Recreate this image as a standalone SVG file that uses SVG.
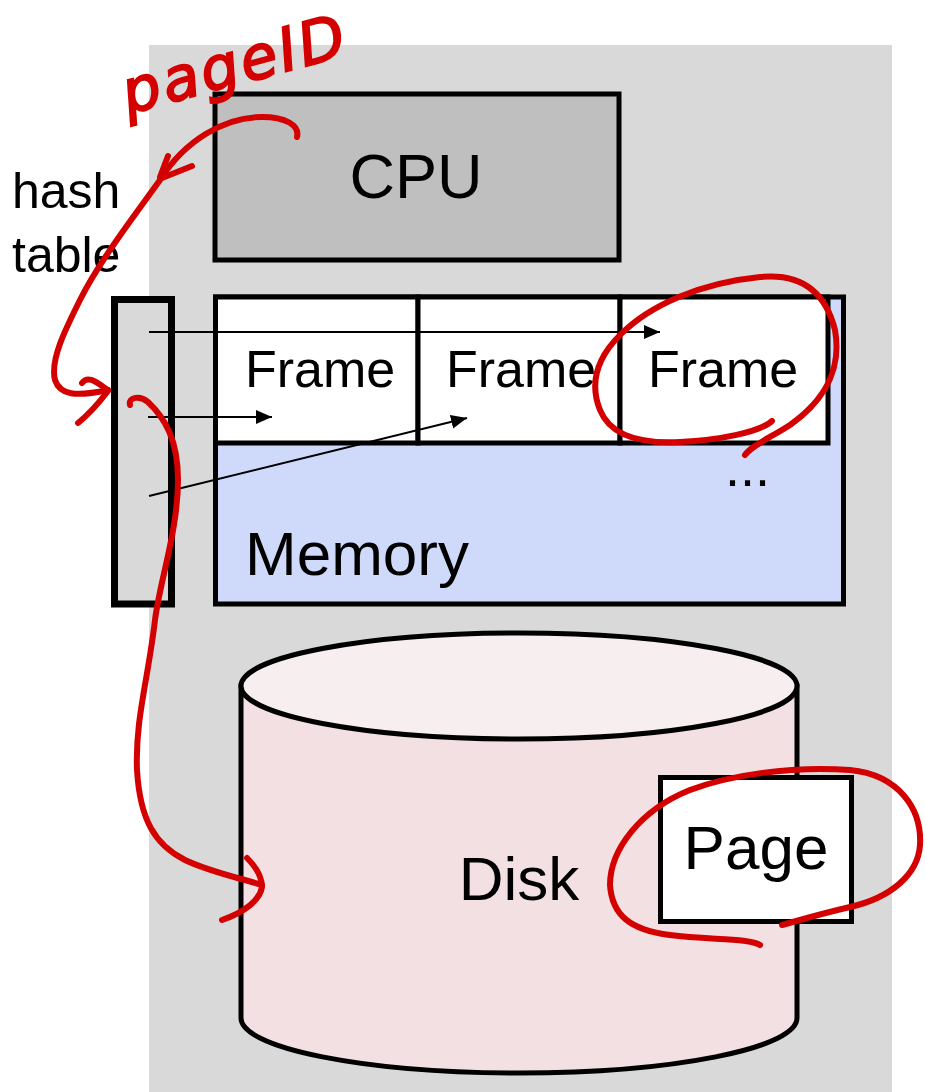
<svg xmlns="http://www.w3.org/2000/svg" width="925" height="1092" viewBox="0 0 925 1092">
<defs>
<style>
.lbl{font-family:"Liberation Sans",Arial,sans-serif;fill:#000}
.box{stroke:#000;stroke-width:5}
.arrow{stroke:#000;stroke-width:2;fill:none}
.red{stroke:#d40000;stroke-width:6;fill:none;stroke-linecap:round;stroke-linejoin:round}
</style>
<marker id="ah" markerUnits="userSpaceOnUse" markerWidth="16" markerHeight="14" refX="16" refY="7" orient="auto">
<path d="M0,0 L16,7 L0,14 z" fill="#000"/>
</marker>
</defs>
<rect width="925" height="1092" fill="#fff"/>
<rect id="system" x="149" y="45" width="743" height="1047" fill="#d9d9d9"/>
<g id="cpu">
<rect class="box" x="215" y="94" width="404" height="166" fill="#bfbfbf"/>
<text class="lbl" x="416" y="198" font-size="63" text-anchor="middle">CPU</text>
</g>
<g id="memory">
<rect class="box" x="215.5" y="297" width="628" height="307" fill="#cfdafa"/>
<text class="lbl" x="245" y="575" font-size="62">Memory</text>
<text class="lbl" x="725" y="486" font-size="54">...</text>
</g>
<g id="frame1">
<rect class="box" x="215.5" y="297" width="202.5" height="146" fill="#fff"/>
<text class="lbl" x="320" y="387" font-size="52" text-anchor="middle">Frame</text>
</g>
<g id="frame2">
<rect class="box" x="418" y="297" width="202" height="146" fill="#fff"/>
<text class="lbl" x="521" y="387" font-size="52" text-anchor="middle">Frame</text>
</g>
<g id="frame3">
<rect class="box" x="620" y="297" width="208" height="146" fill="#fff"/>
<text class="lbl" x="723" y="387" font-size="52" text-anchor="middle">Frame</text>
</g>
<g id="hashtable">
<rect x="114.5" y="299.5" width="57" height="304.5" fill="#d9d9d9" stroke="#000" stroke-width="7"/>
<text class="lbl" x="12" y="208" font-size="50">hash</text>
<text class="lbl" x="12" y="272" font-size="50">table</text>
</g>
<g id="disk">
<path d="M241,686 L241,1018 A278,55 0 0 0 797,1018 L797,686 Z" fill="#f3e0e2" stroke="#000" stroke-width="5"/>
<ellipse cx="519" cy="686" rx="278" ry="53" fill="#f7eef0" stroke="#000" stroke-width="5"/>
<text class="lbl" x="519" y="900" font-size="62" text-anchor="middle">Disk</text>
</g>
<g id="page">
<rect class="box" x="660.5" y="777.5" width="191" height="144" fill="#fff"/>
<text class="lbl" x="756" y="869" font-size="62" text-anchor="middle">Page</text>
</g>
<g id="connectors">
<line class="arrow" x1="149" y1="332" x2="660" y2="332" marker-end="url(#ah)"/>
<line class="arrow" x1="148" y1="417" x2="272" y2="417" marker-end="url(#ah)"/>
<line class="arrow" x1="149" y1="496" x2="467" y2="418" marker-end="url(#ah)"/>
</g>
<g id="annotations">
<text x="128" y="114" transform="rotate(-15 128 114)" font-family="DejaVu Sans, sans-serif" font-style="oblique" font-size="60" fill="#d40000" stroke="#d40000" stroke-width="2" letter-spacing="3">pageID</text>
<path class="red" d="M297,137 C300,125 285,117 262,117 C225,117 185,140 160,180 C135,215 100,260 80,300 C65,330 50,360 55,380 C60,395 75,397 108,390"/>
<path class="red" d="M168,156 L160,177 M192,166 L162,178"/>
<path class="red" d="M82,383 C88,375 96,382 108,390 M78,423 C88,415 98,404 108,391"/>
<path class="red" d="M130,405 C128,397 140,395 148,402 C165,418 178,440 178,480 C178,530 160,580 155,620 C148,680 135,720 137,770 C140,820 155,845 185,860 C210,872 240,878 262,885"/>
<path class="red" d="M247,858 C255,866 262,876 262,887 C260,900 245,912 222,920"/>
<path class="red" d="M772,421 C760,432 720,440 680,442 C640,444 610,435 600,410 C590,385 595,360 620,335 C650,305 700,283 760,277 C800,273 825,290 835,330 C842,370 825,400 790,425 C770,438 752,445 745,455"/>
<path class="red" d="M760,945 C750,938 710,940 670,935 C630,930 612,915 610,885 C610,850 640,810 690,790 C730,775 790,766 850,770 C900,775 922,810 920,845 C918,875 890,898 850,907 C820,914 800,920 782,925"/>
</g>
</svg>
